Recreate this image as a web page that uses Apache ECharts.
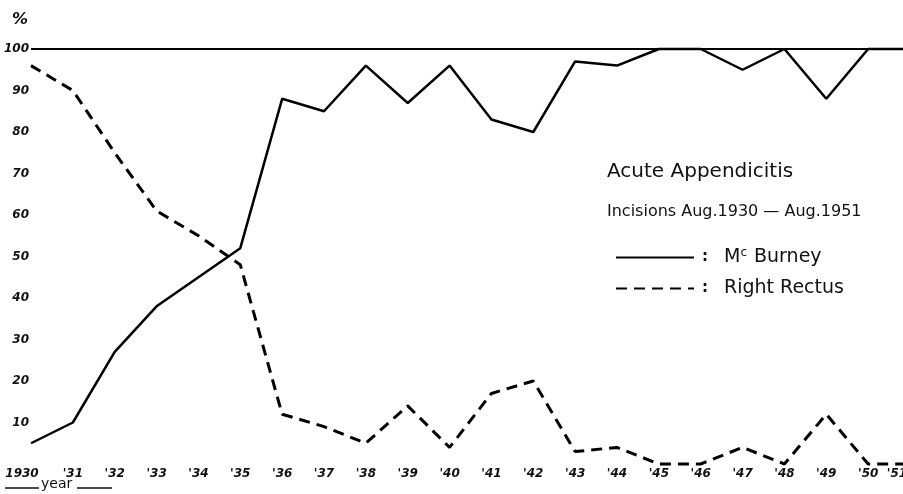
<!DOCTYPE html>
<html><head><meta charset="utf-8">
<script src="https://cdn.jsdelivr.net/npm/echarts@6/dist/echarts.min.js"></script>
<style>html,body{margin:0;padding:0;background:#fff}#c{width:903px;height:494px}</style>
</head><body><div id="c"></div>
<script>
const years = ['1930','1931','1932','1933','1934','1935','1936','1937','1938','1939','1940','1941','1942','1943','1944','1945','1946','1947','1948','1949','1950','1951'];
const yearLabels = ['1930',"'31","'32","'33","'34","'35","'36","'37","'38","'39","'40","'41","'42","'43","'44","'45","'46","'47","'48","'49","'50","'51"];
const mcBurney = [5,10,27,38,45,52,88,85,96,87,96,83,80,97,96,100,100,95,100,88,100,100];
const rightRectus = [96,90,75,61,55,48,12,9,5,14,4,17,20,3,4,0,0,4,0,12,0,0];
const yMax = 100;
const yStep = 10;

const tickFont = {fontFamily:'DejaVu Sans', fontStyle:'italic', fontWeight:'bold', fontSize:12, color:'#111'};
const chart = echarts.init(document.getElementById('c'), null, {renderer:'canvas'});
chart.setOption({
  animation:false,
  backgroundColor:'#fff',
  title:{
    text:'Acute Appendicitis',
    subtext:'Incisions Aug.1930 — Aug.1951',
    left:602, top:157, itemGap:22,
    textStyle:{fontFamily:'DejaVu Sans', fontWeight:'normal', fontSize:20, color:'#111'},
    subtextStyle:{fontFamily:'DejaVu Sans', fontSize:16, color:'#111'}
  },
  legend:{
    orient:'vertical', left:610, top:242,
    itemWidth:78, itemHeight:20, itemGap:12,
    data:['McBurney','Right Rectus'],
    itemStyle:{opacity:0},
    formatter:function(n){
      return n==='McBurney' ? '{p|:}{m|M}{s|c}{m| Burney}' : '{p|:}{m|Right Rectus}';
    },
    textStyle:{
      color:'#111', fontFamily:'DejaVu Sans', fontSize:19,
      rich:{
        p:{width:22, fontSize:15, fontWeight:'bold', color:'#111', padding:[0,0,0,3]},
        m:{fontFamily:'DejaVu Sans', fontSize:19, color:'#111'},
        s:{fontFamily:'DejaVu Sans', fontSize:12, color:'#111', padding:[0,1,9,0]}
      }
    }
  },
  grid:{left:31, width:879, top:49, bottom:30, containLabel:false, outerBoundsMode:'none'},
  xAxis:{
    type:'category', data:years, boundaryGap:false,
    axisLine:{show:false}, axisTick:{show:false}, splitLine:{show:false},
    axisLabel:{
      margin:4, interval:0,
      formatter:function(v,i){
        if(i===0) return '{f|'+yearLabels[i]+'}';
        if(i===yearLabels.length-1) return '{l|'+yearLabels[i]+'}';
        return yearLabels[i];
      },
      rich:{
        f:{...tickFont, padding:[0,18,0,0]},
        l:{...tickFont, padding:[0,26,0,0]}
      },
      ...tickFont
    }
  },
  yAxis:{
    type:'value', min:0, max:yMax, interval:yStep,
    axisLine:{show:false}, axisTick:{show:false}, splitLine:{show:false},
    axisLabel:{margin:2, formatter:function(v){return v===0?'':String(v);}, ...tickFont}
  },
  graphic:[
    {type:'text', left:12, top:12, style:{text:'%', font:'italic bold 16px "DejaVu Sans"', fill:'#111'}},
    {type:'line', shape:{x1:5,y1:488,x2:39,y2:488}, style:{stroke:'#111', lineWidth:1.5}},
    {type:'text', left:41, top:477, style:{text:'year', font:'14px "DejaVu Sans"', fill:'#111'}},
    {type:'line', shape:{x1:77,y1:488,x2:112,y2:488}, style:{stroke:'#111', lineWidth:1.5}}
  ],
  series:[
    {
      name:'McBurney', type:'line', data:mcBurney, symbol:'none', clip:false,
      lineStyle:{color:'#000', width:2.5, type:'solid'},
      itemStyle:{color:'#000'},
      markLine:{
        silent:true, symbol:'none', label:{show:false},
        lineStyle:{color:'#000', width:2, type:'solid'},
        data:[{yAxis:yMax}]
      }
    },
    {
      name:'Right Rectus', type:'line', data:rightRectus, symbol:'none', clip:false,
      lineStyle:{color:'#000', width:3, type:[11,7]},
      itemStyle:{color:'#000'}
    }
  ]
});
</script></body></html>
